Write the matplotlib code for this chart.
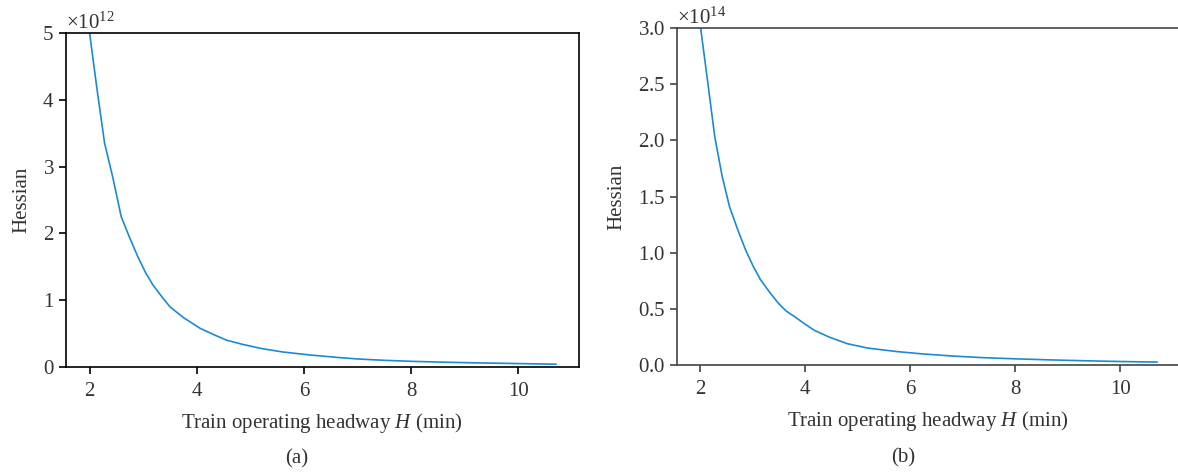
import matplotlib
matplotlib.use("Agg")
import matplotlib.pyplot as plt
from matplotlib.ticker import ScalarFormatter, MultipleLocator

# headway H (min) and Hessian values
h_a = [2.0, 2.14, 2.28, 2.43, 2.59, 2.74, 2.90, 3.04, 3.18, 3.34, 3.50, 3.75, 4.06, 4.30, 4.56, 4.85,
       5.18, 5.60, 6.11, 6.60, 7.00, 7.50, 8.00, 8.60, 9.20, 9.80, 10.30, 10.70]
hess_a = [5.0e12, 4.15e12, 3.35e12, 2.85e12, 2.25e12, 1.95e12, 1.65e12, 1.42e12, 1.23e12, 1.06e12,
          0.90e12, 0.74e12, 0.58e12, 0.49e12, 0.40e12, 0.34e12, 0.28e12, 0.225e12, 0.18e12, 0.145e12,
          0.12e12, 0.10e12, 0.085e12, 0.072e12, 0.062e12, 0.054e12, 0.047e12, 0.042e12]

h_b = [2.01, 2.15, 2.28, 2.42, 2.56, 2.72, 2.87, 3.01, 3.15, 3.32, 3.49, 3.64, 3.80, 3.98, 4.17,
       4.45, 4.80, 5.20, 5.74, 6.20, 6.80, 7.40, 8.00, 8.70, 9.40, 10.00, 10.70]
hess_b = [3.0e14, 2.5e14, 2.03e14, 1.68e14, 1.41e14, 1.20e14, 1.02e14, 0.88e14, 0.76e14, 0.65e14,
          0.55e14, 0.48e14, 0.43e14, 0.37e14, 0.31e14, 0.25e14, 0.19e14, 0.15e14, 0.12e14, 0.10e14,
          0.08e14, 0.065e14, 0.055e14, 0.045e14, 0.037e14, 0.031e14, 0.026e14]

x_ticks = [2, 4, 6, 8, 10]
x_label = "Train operating headway $\\mathit{H}$ (min)"
y_label = "Hessian"

plt.rcParams['font.family'] = ['Liberation Serif', 'DejaVu Serif']
plt.rcParams['mathtext.fontset'] = 'custom'
plt.rcParams['mathtext.rm'] = 'Liberation Serif'
plt.rcParams['mathtext.it'] = 'Liberation Serif:italic'
plt.rcParams['font.size'] = 15
text_col = '#333333'
line_col = '#1a8bd0'

W, H = 1178, 472
fig = plt.figure(figsize=(W / 100, H / 100), dpi=100)

def make_axes(left, top, right, bottom):
    return fig.add_axes([left / W, (H - bottom) / H, (right - left) / W, (bottom - top) / H])

ax1 = make_axes(66, 33, 578.5, 367)
ax2 = make_axes(677, 28, 1179, 365)

for ax, hx, hy, ylim, step, spine_col, cap in [
        (ax1, h_a, hess_a, 5e12, 1e12, 'black', '(a)'),
        (ax2, h_b, hess_b, 3e14, 0.5e14, '#444444', '(b)')]:
    ax.plot(hx, hy, color=line_col, lw=1.2)
    ax.set_xlim(1.56, 11.12)
    ax.set_ylim(0, ylim)
    ax.set_xticks(x_ticks)
    ax.yaxis.set_major_locator(MultipleLocator(step))
    fmt = ScalarFormatter(useMathText=True)
    fmt.set_powerlimits((0, 0))
    ax.yaxis.set_major_formatter(fmt)
    ax.yaxis.get_offset_text().set_color(text_col)
    ax.yaxis.get_offset_text().set_fontsize(15)
    for s in ax.spines.values():
        s.set_color(spine_col)
        s.set_linewidth(1.2)
    ax.tick_params(direction='out', length=5, width=1.2, color=spine_col, labelcolor=text_col)
    ax.tick_params(axis='x', pad=6)
    ax.set_xlabel(x_label, color=text_col, labelpad=7)
    ax.set_ylabel(y_label, color=text_col, labelpad=8)
    ax.text(0.45, -0.275, cap, transform=ax.transAxes, ha='center', va='center', color=text_col)

fig.savefig("out.png", dpi=100)
